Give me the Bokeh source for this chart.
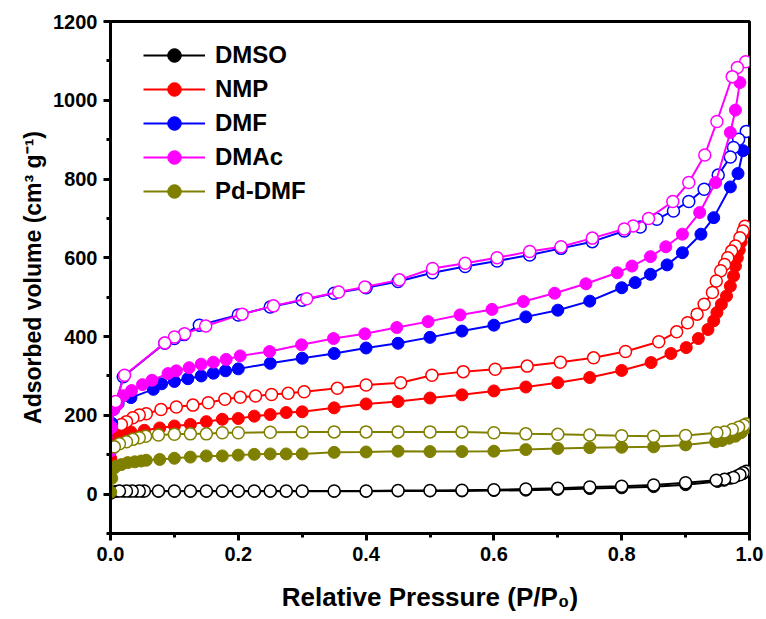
from bokeh.plotting import figure
from bokeh.models import Range1d, FixedTicker, Legend, LegendItem, CustomJSTickFormatter
from bokeh.embed import file_html
from bokeh.resources import INLINE

# ---------------- data ----------------
series_names = ["DMSO", "NMP", "DMF", "DMAc", "Pd-DMF"]
series_colors = ["#000000", "#FF0000", "#0000FF", "#FF00FF", "#808000"]

# DMSO
dmso_ads_p = [0.0005, 0.002, 0.005, 0.01, 0.02, 0.03, 0.04, 0.05, 0.075, 0.1, 0.125, 0.15, 0.175, 0.2,
              0.225, 0.25, 0.275, 0.3, 0.35, 0.4, 0.45, 0.5, 0.55, 0.6, 0.65, 0.7, 0.75, 0.8, 0.85,
              0.9, 0.95, 0.96, 0.97, 0.98, 0.99]
dmso_ads_v = [2, 5, 6, 7, 7, 7, 7, 7, 7, 7, 7, 7, 7, 7, 7, 7, 7, 7, 7, 7, 8, 8, 8, 9, 10, 12, 14, 16,
              19, 24, 32, 35, 40, 46, 52]
dmso_des_p = [0.995, 0.99, 0.985, 0.975, 0.961, 0.948, 0.9, 0.85, 0.8, 0.75, 0.7, 0.65, 0.6, 0.55,
              0.5, 0.45, 0.4, 0.35, 0.3, 0.275, 0.25, 0.225, 0.2, 0.175, 0.15, 0.125, 0.1, 0.075,
              0.053, 0.045, 0.034, 0.025, 0.014]
dmso_des_v = [58, 54, 49, 42, 38, 35, 29, 23, 20, 18, 15, 13, 11, 10, 9, 9, 8, 8, 8, 8, 8, 8, 8, 8,
              8, 8, 8, 8, 8, 8, 8, 8, 8]

# NMP
nmp_ads_p = [0.0005, 0.002, 0.005, 0.011, 0.02, 0.032, 0.053, 0.077, 0.1, 0.125, 0.15, 0.175, 0.2,
             0.225, 0.25, 0.275, 0.3, 0.35, 0.4, 0.45, 0.5, 0.55, 0.6, 0.65, 0.7, 0.75, 0.8, 0.846,
             0.877, 0.901, 0.92, 0.935, 0.944, 0.949, 0.956, 0.964, 0.97, 0.975, 0.978, 0.981,
             0.984, 0.987, 0.99]
nmp_ads_v = [90, 125, 145, 152, 155, 158, 162, 168, 173, 177, 184, 190, 192, 198, 202, 207, 209, 219,
             229, 235, 244, 252, 262, 272, 283, 296, 314, 334, 357, 372, 395, 418, 440, 461, 482,
             503, 528, 554, 579, 600, 620, 640, 660]
nmp_des_p = [0.993, 0.99, 0.985, 0.978, 0.972, 0.966, 0.961, 0.955, 0.948, 0.942, 0.929, 0.918,
             0.903, 0.886, 0.858, 0.806, 0.756, 0.704, 0.652, 0.602, 0.552, 0.503, 0.454, 0.4,
             0.355, 0.303, 0.278, 0.252, 0.227, 0.203, 0.179, 0.153, 0.129, 0.103, 0.079, 0.056,
             0.045, 0.035, 0.025, 0.017]
nmp_des_v = [680, 668, 651, 630, 617, 600, 583, 567, 541, 512, 482, 457, 435, 412, 387, 362, 346,
             335, 325, 317, 311, 302, 283, 277, 269, 260, 256, 253, 249, 246, 241, 232, 226, 221,
             215, 204, 201, 194, 184, 177]

# DMF
dmf_ads_p = [0.0005, 0.002, 0.005, 0.012, 0.032, 0.067, 0.08, 0.1, 0.121, 0.142, 0.161, 0.18, 0.2,
             0.25, 0.3, 0.35, 0.4, 0.45, 0.5, 0.55, 0.6, 0.65, 0.7, 0.75, 0.8, 0.821, 0.845, 0.871,
             0.895, 0.924, 0.944, 0.97, 0.982, 0.99]
dmf_ads_v = [120, 180, 215, 230, 245, 266, 280, 286, 293, 300, 307, 313, 318, 332, 345, 357, 371,
             383, 398, 414, 429, 450, 467, 490, 524, 537, 558, 582, 613, 660, 702, 780, 814, 872]
dmf_des_p = [0.995, 0.983, 0.975, 0.97, 0.951, 0.929, 0.905, 0.881, 0.855, 0.829, 0.804, 0.754,
             0.705, 0.656, 0.605, 0.555, 0.504, 0.45, 0.4, 0.35, 0.3, 0.25, 0.2, 0.139, 0.115,
             0.1, 0.085, 0.02, 0.008]
dmf_des_v = [921, 901, 880, 856, 810, 774, 743, 719, 698, 678, 668, 641, 624, 607, 592, 578, 562,
             540, 524, 510, 492, 475, 455, 429, 405, 395, 383, 298, 225]

# DMAc
dmac_ads_p = [0.0005, 0.002, 0.005, 0.011, 0.02, 0.033, 0.05, 0.065, 0.09, 0.103, 0.123, 0.142,
              0.161, 0.181, 0.203, 0.249, 0.299, 0.349, 0.398, 0.448, 0.497, 0.547, 0.597, 0.646,
              0.695, 0.744, 0.793, 0.816, 0.845, 0.869, 0.895, 0.922, 0.947, 0.97, 0.978, 0.985]
dmac_ads_v = [110, 170, 215, 228, 250, 263, 278, 289, 306, 313, 321, 330, 335, 342, 351, 362, 379,
              395, 407, 423, 438, 455, 469, 489, 510, 534, 562, 579, 603, 628, 660, 715, 791, 918,
              975, 1045]
dmac_des_p = [0.994, 0.981, 0.973, 0.949, 0.93, 0.905, 0.88, 0.842, 0.818, 0.804, 0.754, 0.705,
              0.656, 0.605, 0.555, 0.504, 0.452, 0.398, 0.357, 0.307, 0.255, 0.206, 0.149, 0.116,
              0.1, 0.085, 0.022, 0.008]
dmac_des_v = [1098, 1083, 1060, 946, 861, 791, 743, 700, 681, 673, 650, 628, 616, 600, 586, 573,
              544, 526, 513, 496, 478, 457, 427, 407, 399, 384, 302, 235]

# Pd-DMF
pd_ads_p = [0.0005, 0.002, 0.005, 0.009, 0.017, 0.027, 0.038, 0.048, 0.056, 0.077, 0.1, 0.125,
            0.15, 0.175, 0.2, 0.225, 0.25, 0.275, 0.3, 0.35, 0.4, 0.45, 0.5, 0.55, 0.6, 0.65, 0.7,
            0.75, 0.8, 0.85, 0.9, 0.947, 0.957, 0.968, 0.978, 0.987, 0.995]
pd_ads_v = [5, 40, 65, 71, 75, 80, 82, 84, 86, 88, 91, 94, 97, 97, 99, 101, 102, 102, 102, 106, 107,
            109, 108, 108, 109, 113, 116, 118, 119, 120, 125, 133, 136, 142, 147, 156, 168]
pd_des_p = [0.995, 0.991, 0.983, 0.973, 0.961, 0.949, 0.9, 0.85, 0.8, 0.75, 0.7, 0.65, 0.6, 0.55,
            0.5, 0.45, 0.4, 0.35, 0.3, 0.25, 0.2, 0.175, 0.15, 0.125, 0.1, 0.075, 0.055, 0.045,
            0.035, 0.025, 0.014, 0.006]
pd_des_v = [178, 175, 170, 164, 158, 156, 149, 147, 148, 150, 152, 153, 156, 158, 158, 158, 158,
            158, 158, 157, 156, 156, 153, 153, 152, 150, 147, 143, 139, 133, 128, 120]

series_ads = [(dmso_ads_p, dmso_ads_v), (nmp_ads_p, nmp_ads_v), (dmf_ads_p, dmf_ads_v),
              (dmac_ads_p, dmac_ads_v), (pd_ads_p, pd_ads_v)]
series_des = [(dmso_des_p, dmso_des_v), (nmp_des_p, nmp_des_v), (dmf_des_p, dmf_des_v),
              (dmac_des_p, dmac_des_v), (pd_des_p, pd_des_v)]

x_major_ticks = [0.0, 0.2, 0.4, 0.6, 0.8, 1.0]
x_minor_ticks = [0.1, 0.3, 0.5, 0.7, 0.9]
y_major_ticks = [0, 200, 400, 600, 800, 1000, 1200]
y_minor_ticks = [-100, 100, 300, 500, 700, 900, 1100]

x_title = "Relative Pressure (P/P\u2080)"
y_title = "Adsorbed volume (cm\u00b3 g\u207b\u00b9)"

FONT = "Liberation Sans"

# ---------------- figure ----------------
p = figure(width=766, height=619, output_backend="svg", toolbar_location=None,
           x_range=Range1d(0, 1.0), y_range=Range1d(-100, 1200),
           min_border_left=110, min_border_right=17, min_border_top=21, min_border_bottom=86)
p.background_fill_color = "white"
p.border_fill_color = "white"
p.outline_line_color = "black"
p.outline_line_width = 3
p.xgrid.visible = False
p.ygrid.visible = False

legend_items = []
for name, color, (ap, av), (dp, dv) in zip(series_names, series_colors, series_ads, series_des):
    l1 = p.line(ap, av, line_color=color, line_width=2)
    s1 = p.scatter(ap, av, marker="circle", size=12, fill_color=color, line_color=color, line_width=1)
    p.line(dp, dv, line_color=color, line_width=2)
    p.scatter(dp, dv, marker="circle", size=12, fill_color="white", line_color=color, line_width=1.5)
    legend_items.append(LegendItem(label=name, renderers=[l1, s1]))

for ax in (p.xaxis[0], p.yaxis[0]):
    ax.axis_line_width = 3
    ax.axis_line_color = "black"
    ax.major_tick_line_width = 3
    ax.minor_tick_line_width = 3
    ax.major_tick_out = 7
    ax.major_tick_in = 0
    ax.minor_tick_out = 4
    ax.minor_tick_in = 0
    ax.major_label_text_font = FONT
    ax.major_label_text_font_style = "bold"
    ax.major_label_text_font_size = "20px"
    ax.major_label_text_color = "black"
    ax.axis_label_text_font = FONT
    ax.axis_label_text_font_style = "bold"
    ax.axis_label_text_color = "black"

p.xaxis.axis_label_text_font_size = "26px"
p.yaxis.axis_label_text_font_size = "23px"
p.xaxis.ticker = FixedTicker(ticks=x_major_ticks, minor_ticks=x_minor_ticks)
p.yaxis.ticker = FixedTicker(ticks=y_major_ticks, minor_ticks=y_minor_ticks)
p.xaxis.formatter = CustomJSTickFormatter(code="return tick.toFixed(1);")
p.yaxis.formatter = CustomJSTickFormatter(code="return tick.toFixed(0);")
p.xaxis.axis_label = x_title
p.yaxis.axis_label = y_title
p.xaxis.major_label_standoff = 6
p.yaxis.major_label_standoff = 6
p.xaxis.axis_label_standoff = 18
p.yaxis.axis_label_standoff = 4

legend = Legend(items=legend_items, location=(33, 325))
legend.border_line_color = None
legend.background_fill_alpha = 0
legend.padding = 0
legend.margin = 0
legend.spacing = 0
legend.glyph_width = 62
legend.glyph_height = 34
legend.label_height = 34
legend.label_standoff = 10
legend.label_text_font = FONT
legend.label_text_font_style = "bold"
legend.label_text_font_size = "24px"
legend.label_text_color = "black"
p.add_layout(legend)

open("out.html", "w").write(file_html(p, INLINE))
